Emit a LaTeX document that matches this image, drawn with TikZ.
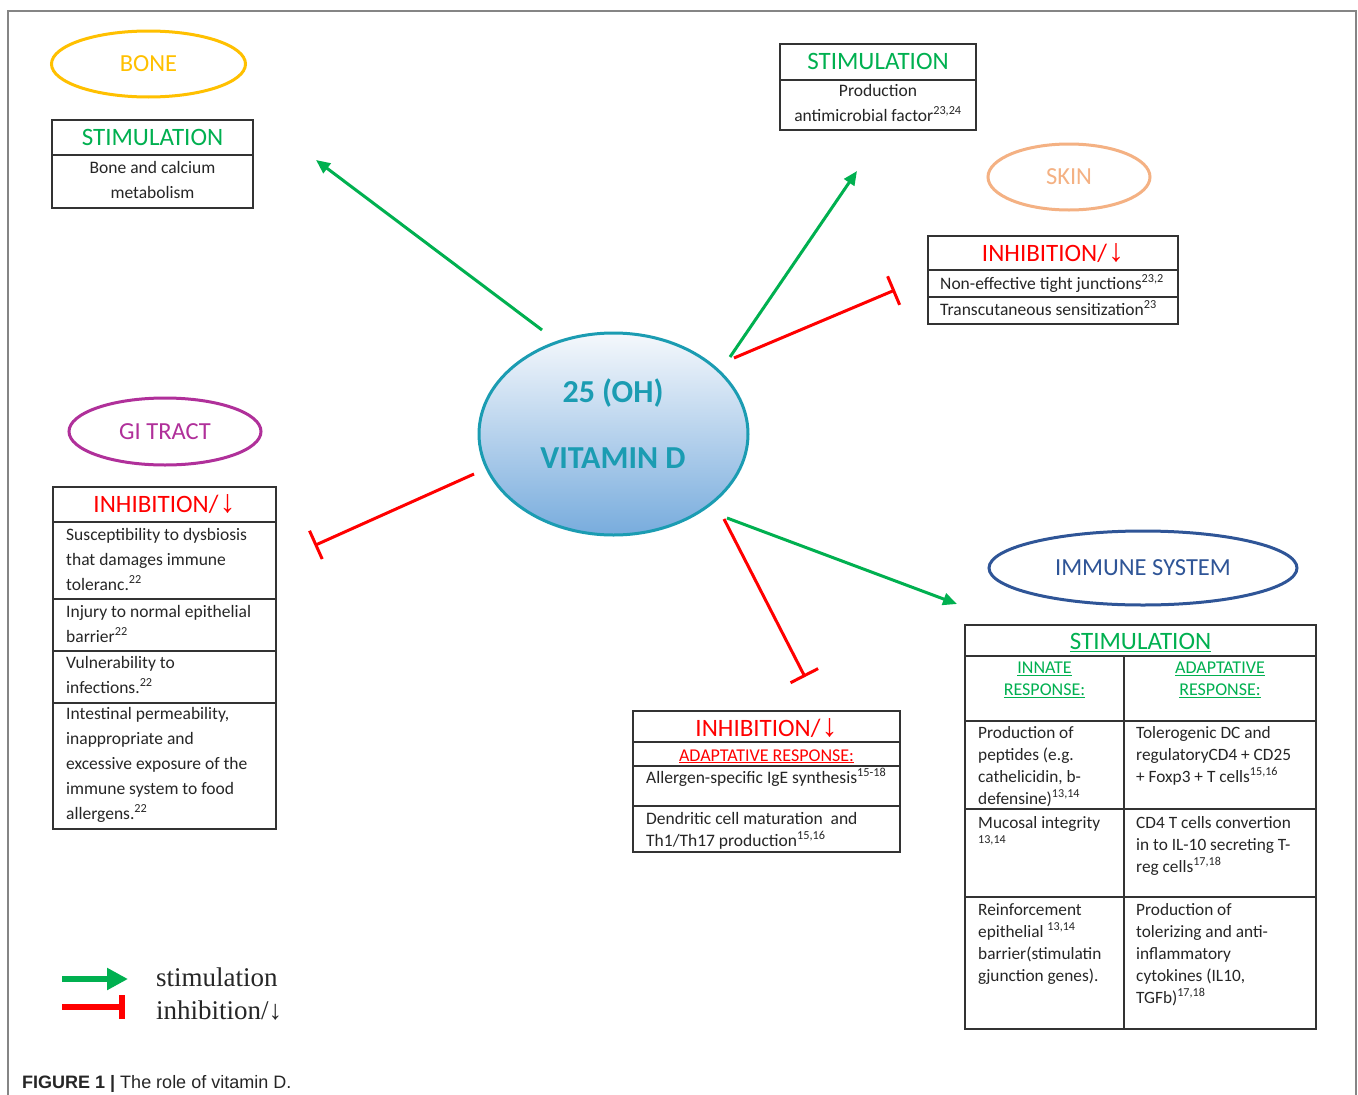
\documentclass[tikz,border=0pt]{standalone}
\usepackage{fontspec}
\setmainfont{Carlito}
\newfontfamily\symfont{Liberation Sans}
\newfontfamily\legfont{Liberation Serif}
\newfontfamily\capfont{Liberation Sans}
\usetikzlibrary{arrows.meta,shapes.geometric,calc}
\definecolor{stimc}{HTML}{00B050}
\definecolor{inhc}{HTML}{FF0000}
\definecolor{bonec}{HTML}{FFC000}
\definecolor{skinc}{HTML}{F4B183}
\definecolor{gic}{HTML}{B0309A}
\definecolor{immc}{HTML}{2F5597}
\definecolor{vdc}{HTML}{1B9CB2}
\definecolor{vdtop}{HTML}{F5F8FC}
\definecolor{vdbot}{HTML}{78ACDD}
\definecolor{txtc}{HTML}{262626}
\definecolor{boxc}{HTML}{333333}
\definecolor{framec}{HTML}{858585}
\newcommand{\dn}{\kern1pt{\symfont\fontsize{32}{34}\selectfont ↓}}
\newcommand{\sps}[1]{\textsuperscript{#1}}
\begin{document}
\begin{tikzpicture}[x=1pt,y=-1pt,
  boxline/.style={draw=boxc, line width=1.3pt},
  hdr/.style={font=\fontsize{25}{28}\selectfont, inner sep=0, anchor=base},
  body/.style={font=\fontsize{17.5}{25}\selectfont, text=txtc, inner sep=0},
  tbl/.style={font=\fontsize{17.3}{22}\selectfont, text=txtc, inner sep=0, align=left, anchor=north west},
  sub/.style={font=\fontsize{18}{22}\selectfont, inner sep=0},
  organ/.style={ellipse, line width=3pt, inner sep=0, font=\fontsize{24.5}{28}\selectfont},
  stimarrow/.style={draw=stimc, line width=3pt, -{Triangle[length=14pt,width=12pt]}},
  inharrow/.style={draw=inhc, line width=3pt, -{Bar[width=31pt]}},
  vdtext/.style={font=\fontsize{32}{36}\selectfont\bfseries, text=vdc, inner sep=0, anchor=base}
]
\useasboundingbox (0,0) rectangle (1358,1095);
\fill[white] (0,0) rectangle (1358,1095);
% frame
\draw[framec, line width=2pt] (7.5,1096) -- (7.5,10.5) -- (1356,10.5) -- (1356,1096);

% ---------- central ellipse ----------
\node[ellipse, draw=vdc, line width=3pt, top color=vdtop, bottom color=vdbot,
      minimum width=269pt, minimum height=202pt, inner sep=0] (vd) at (613.5,434) {};
\node[vdtext] (vd1) at (613,402.5) {25 (OH)};
\node[vdtext] (vd2) at (613,468.5) {VITAMIN D};

% ---------- BONE ----------
\node[organ, draw=bonec, text=bonec, minimum width=194pt, minimum height=66pt] (bone) at (148.5,64) {BONE};
\draw[boxline] (52,120) rectangle (253,208);
\draw[boxline] (52,155) -- (253,155);
\node[hdr, text=stimc] (bonehdr) at (152.5,145.5) {STIMULATION};
\node[body, align=center, anchor=north] (bonebody) at (152.5,155.5) {\strut Bone and calcium\\metabolism};

% ---------- SKIN ----------
\draw[boxline] (780,44) rectangle (976,130);
\draw[boxline] (780,80) -- (976,80);
\node[hdr, text=stimc] (skinhdr) at (878,69.5) {STIMULATION};
\node[body, align=center, anchor=north] (skinbody) at (878,78.5) {\strut Production\\antimicrobial factor\sps{23,24}};
\node[organ, draw=skinc, text=skinc, minimum width=162pt, minimum height=66pt] (skin) at (1069,177) {SKIN};
\draw[boxline] (928,236) rectangle (1178,324);
\draw[boxline] (928,270) -- (1178,270);
\draw[boxline] (928,297) -- (1178,297);
\node[hdr, text=inhc] (skininh) at (1053,261.5) {INHIBITION/\dn};
\node[body, anchor=base west] (skin1) at (940,289) {Non-effective tight junctions\sps{23,2}};
\node[body, anchor=base west] (skin2) at (940,315) {Transcutaneous sensitization\sps{23}};

% ---------- GI TRACT ----------
\node[organ, draw=gic, text=gic, minimum width=192pt, minimum height=67pt] (gi) at (165,431.5) {GI TRACT};
\draw[boxline] (53,487) rectangle (276,829);
\foreach \yy in {522,599,651,703} \draw[boxline] (53,\yy) -- (276,\yy);
\node[hdr, text=inhc] (giinh) at (164.5,512.5) {INHIBITION/\dn};
\node[body, align=left, anchor=north west] (gi1) at (66,522.5) {\strut Susceptibility to dysbiosis\\that damages immune\\toleranc.\sps{22}};
\node[body, align=left, anchor=north west] (gi2) at (66,599.5) {\strut Injury to normal epithelial\\barrier\sps{22}};
\node[body, align=left, anchor=north west] (gi3) at (66,650.5) {\strut Vulnerability to\\infections.\sps{22}};
\node[body, align=left, anchor=north west] (gi4) at (66,701.5) {\strut Intestinal permeability,\\inappropriate and\\excessive exposure of the\\immune system to food\\allergens.\sps{22}};

% ---------- ADAPTIVE INHIBITION ----------
\draw[boxline] (633,711) rectangle (900,852);
\foreach \yy in {742,766,806} \draw[boxline] (633,\yy) -- (900,\yy);
\node[hdr, text=inhc] (adinh) at (766.5,736) {INHIBITION/\dn};
\node[sub, text=inhc, anchor=base] (adsub) at (766.5,761) {\underline{ADAPTATIVE RESPONSE:}};
\node[body, anchor=base west] (ad1) at (646,783) {Allergen-specific IgE synthesis\sps{15-18}};
\node[body, font=\fontsize{17.5}{22}\selectfont, align=left, anchor=north west] (ad2) at (646,808.6) {\strut Dendritic cell maturation~ and\\Th1/Th17 production\sps{15,16}};

% ---------- IMMUNE SYSTEM ----------
\node[organ, draw=immc, text=immc, minimum width=308pt, minimum height=74pt] (imm) at (1143,568) {IMMUNE SYSTEM};
\draw[boxline] (965,625) rectangle (1316,1029);
\draw[boxline] (965,656) -- (1316,656);
\draw[boxline] (1124,656) -- (1124,1029);
\foreach \yy in {721,809,897} \draw[boxline] (965,\yy) -- (1316,\yy);
\node[hdr, text=stimc] (immhdr) at (1140.5,649.5) {\underline{STIMULATION}};
\node[sub, text=stimc, align=center, anchor=north] (innate) at (1044.5,658) {\strut\underline{INNATE}\\\underline{RESPONSE:}};
\node[sub, text=stimc, align=center, anchor=north] (adapt) at (1220,658) {\strut\underline{ADAPTATIVE}\\\underline{RESPONSE:}};
\node[tbl] (c11) at (978,722.6) {\strut Production of\\peptides (e.g.\\cathelicidin, b-\\defensine)\sps{13,14}};
\node[tbl] (c12) at (1136,722.6) {\strut Tolerogenic DC and\\regulatoryCD4 + CD25\\+ Foxp3 + T cells\sps{15,16}};
\node[tbl] (c21) at (978,812.6) {\strut Mucosal integrity\\\sps{13,14}};
\node[tbl] (c22) at (1136,812.6) {\strut CD4 T cells convertion\\in to IL-10 secreting T-\\reg cells\sps{17,18}};
\node[tbl] (c31) at (978,899.6) {\strut Reinforcement\\epithelial \sps{13,14}\\barrier(stimulatin\\gjunction genes).};
\node[tbl] (c32) at (1136,899.6) {\strut Production of\\tolerizing and anti-\\inflammatory\\cytokines (IL10,\\TGFb)\sps{17,18}};

% ---------- connectors ----------
\coordinate (sBone) at (542,330);   \coordinate (eBone) at (316,160);
\coordinate (sSkS) at (730,357);    \coordinate (eSkS) at (857,171);
\coordinate (sSkI) at (734,358);    \coordinate (eSkI) at (895,290);
\coordinate (sGI) at (474,474);     \coordinate (eGI) at (314.5,545.5);
\coordinate (sAd) at (724,519);     \coordinate (eAd) at (805,677);
\coordinate (sIm) at (727,518);     \coordinate (eIm) at (957,604);
\draw[stimarrow] (sBone) -- (eBone);
\draw[stimarrow] (sSkS) -- (eSkS);
\draw[inharrow] (sSkI) -- (eSkI);
\draw[inharrow] (sGI) -- (eGI);
\draw[inharrow] (sAd) -- (eAd);
\draw[stimarrow] (sIm) -- (eIm);

% ---------- legend ----------
\coordinate (lg1s) at (62,979); \coordinate (lg1e) at (128,979);
\coordinate (lg2s) at (62,1007); \coordinate (lg2e) at (125,1007);
\draw[draw=stimc, line width=6pt, -{Triangle[length=21pt,width=21pt]}] (lg1s) -- (lg1e);
\draw[draw=inhc, line width=6pt, -{Bar[width=24pt]}] (lg2s) -- (lg2e);
\node[font=\legfont\fontsize{27}{30}\selectfont, text=txtc, inner sep=0, anchor=base west] (lgt1) at (156,986) {stimulation};
\node[font=\legfont\fontsize{27}{30}\selectfont, text=txtc, inner sep=0, anchor=base west] (lgt2) at (156,1019) {inhibition/↓};

% ---------- caption ----------
\node[font=\capfont\fontsize{18}{20}\selectfont, text=txtc, inner sep=0, anchor=base west] (cap) at (22,1088) {\textbf{FIGURE 1 |} The role of vitamin D.};
\end{tikzpicture}
\end{document}
